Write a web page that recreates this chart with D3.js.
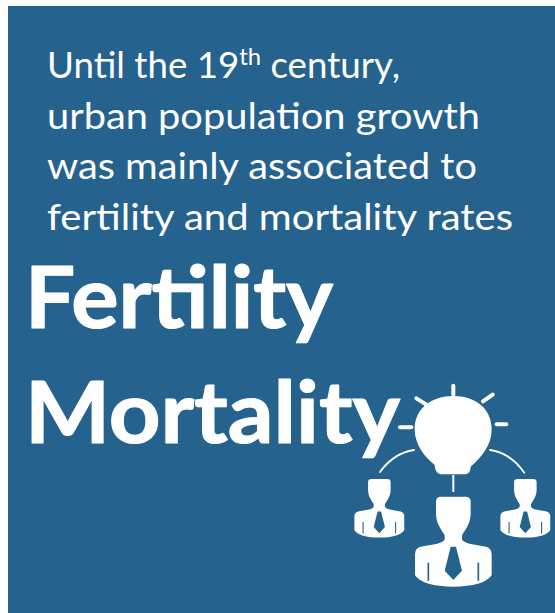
<!DOCTYPE html>
<html>
<head>
<meta charset="utf-8">
<script src="https://cdn.jsdelivr.net/npm/d3@7"></script>
<style>
  html, body { margin: 0; background: #fff; }
  svg { display: block; }
</style>
</head>
<body>
<script>
const width = 555
const height = 613
const panelColor = '#26628e'

const introLines = [
  ['Until the 19', 'th', ' century,'],
  ['urban population growth'],
  ['was mainly associated to'],
  ['fertility and mortality rates'],
]
const introBaselines = [78, 129, 179, 230]
const introWidths = [353, 433, 430, 466]
const bigWords = ['Fertility', 'Mortality']
const bigBaselines = [328, 443]
const bigWidths = [308, 375]

// icon drawn in zoomed-crop units, mapped back to the page
const ix = d3.scaleLinear().domain([0, 645]).range([340, 555])
const iy = d3.scaleLinear().domain([0, 729]).range([370, 613])

const rays = [
  [[340, 47], [340, 75]],
  [[229, 85], [258, 103]],
  [[429, 94], [458, 74]],
  [[180, 172], [214, 172]],
  [[470, 163], [499, 163]],
]
const links = [
  [[120, 306], [160, 250], [222, 240]],
  [[450, 240], [510, 248], [553, 308]],
]
const stem = [[340, 315], [340, 366]]
const people = [
  { cx: 340, top: 380, k: 1 },
  { cx: 118, top: 327, k: 0.65 },
  { cx: 556, top: 327, k: 0.65 },
]

const svg = d3.select('body').append('svg').attr('width', width).attr('height', height)

svg.append('rect')
  .attr('x', 8).attr('y', 6)
  .attr('width', width - 8).attr('height', height - 6)
  .attr('fill', panelColor)

const intro = svg.append('g')
  .attr('fill', '#fff')
  .attr('font-family', 'Lato, "Open Sans", sans-serif')
  .attr('font-size', 37)

introLines.forEach((parts, i) => {
  const t = intro.append('text')
    .attr('x', 47)
    .attr('y', introBaselines[i])
    .attr('textLength', introWidths[i])
    .attr('lengthAdjust', 'spacingAndGlyphs')
  parts.forEach((part, j) => {
    const span = t.append('tspan').text(part)
    if (parts.length > 1 && j === 1) span.attr('dy', -13).attr('font-size', 24)
    if (parts.length > 1 && j === 2) span.attr('dy', 13)
  })
})

svg.append('g')
  .attr('fill', '#fff')
  .attr('stroke', '#fff')
  .attr('stroke-width', 1.2)
  .attr('stroke-linejoin', 'round')
  .attr('font-family', 'Lato, "Open Sans", sans-serif')
  .attr('font-weight', 700)
  .attr('font-size', 86)
  .selectAll('text')
  .data(bigWords)
  .join('text')
  .attr('x', 25)
  .attr('y', (_, i) => bigBaselines[i])
  .attr('textLength', (_, i) => bigWidths[i])
  .attr('lengthAdjust', 'spacingAndGlyphs')
  .text((d) => d)

const icon = svg.append('g')

const line = d3.line().x((d) => ix(d[0])).y((d) => iy(d[1]))

icon.selectAll('path.ray')
  .data(rays)
  .join('path')
  .attr('class', 'ray')
  .attr('d', line)
  .attr('stroke', '#fff')
  .attr('stroke-width', 4)
  .attr('stroke-linecap', 'round')

icon.selectAll('path.link')
  .data(links)
  .join('path')
  .attr('class', 'link')
  .attr('fill', 'none')
  .attr('stroke', '#fff')
  .attr('stroke-width', 1.8)
  .attr('stroke-linecap', 'round')
  .attr('d', (d) => {
    const p = d3.path()
    p.moveTo(ix(d[0][0]), iy(d[0][1]))
    p.quadraticCurveTo(ix(d[1][0]), iy(d[1][1]), ix(d[2][0]), iy(d[2][1]))
    return p.toString()
  })

icon.append('path')
  .attr('d', line(stem))
  .attr('stroke', '#fff')
  .attr('stroke-width', 2)

// bulb
const bulb = d3.path()
bulb.moveTo(ix(300), iy(313))
bulb.lineTo(ix(378), iy(313))
bulb.quadraticCurveTo(ix(392), iy(308), ix(392), iy(290))
bulb.bezierCurveTo(ix(425), iy(262), ix(455), iy(225), ix(455), iy(178))
bulb.bezierCurveTo(ix(455), iy(115), ix(405), iy(78), ix(340), iy(78))
bulb.bezierCurveTo(ix(275), iy(78), ix(224), iy(115), ix(224), iy(178))
bulb.bezierCurveTo(ix(224), iy(225), ix(255), iy(262), ix(284), iy(285))
bulb.quadraticCurveTo(ix(284), iy(306), ix(300), iy(313))
bulb.closePath()
icon.append('path').attr('d', bulb.toString()).attr('fill', '#fff')

const bodyPath = [
  'M-52,14 Q-52,0 -36,0 L36,0 Q52,0 52,14 L52,50 C52,80 38,96 26,116 L26,128',
  'Q30,137 48,141 L98,150 Q115,155 115,172 L115,236 Q90,270 0,270 Q-90,270 -115,236 L-115,172',
  'Q-115,155 -98,150 L-48,141 Q-30,137 -26,128 L-26,116 C-38,96 -52,80 -52,50 Z',
].join(' ')
const tiePath = 'M-8,150 L8,150 L26,222 L0,250 L-26,222 Z'
const slitLeft = 'M-75,198 L-75,252'
const slitRight = 'M75,198 L75,252'

const person = icon.selectAll('g.person')
  .data(people)
  .join('g')
  .attr('class', 'person')
  .attr('transform', (d) => `translate(${ix(d.cx)},${iy(d.top)}) scale(${d.k / 3})`)

person.append('path').attr('d', bodyPath).attr('fill', '#fff')
person.append('path').attr('d', tiePath).attr('fill', panelColor)
person.append('path')
  .attr('d', `${slitLeft} ${slitRight}`)
  .attr('stroke', panelColor)
  .attr('stroke-width', 5)
</script>
</body>
</html>
